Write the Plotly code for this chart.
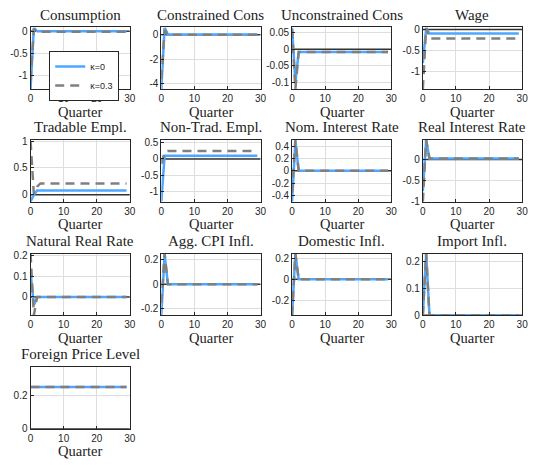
import plotly.graph_objects as go

W, H = 536, 465

quarters = list(range(30))

titles = ["Consumption", "Constrained Cons", "Unconstrained Cons", "Wage",
          "Tradable Empl.", "Non-Trad. Empl.", "Nom. Interest Rate", "Real Interest Rate",
          "Natural Real Rate", "Agg. CPI Infl.", "Domestic Infl.", "Import Infl.",
          "Foreign Price Level"]

# kappa = 0 (blue, solid)
cons_k0 = [-1.30, 0.08] + [0.0] * 28
ccons_k0 = [-4.42, 0.60] + [0.02] * 28
ucons_k0 = [0.066, -0.10] + [-0.008] * 28
wage_k0 = [-0.80, 0.03] + [-0.093] * 28
tradempl_k0 = [-0.13, 0.0] + [0.08] * 28
ntradempl_k0 = [-1.31, 0.10] + [0.10] * 28
nomrate_k0 = [-0.50, 0.48] + [0.0] * 28
realrate_k0 = [-0.75, 0.46] + [0.02] * 28
natrate_k0 = [0.12, -0.04] + [0.0] * 28
cpi_k0 = [-0.25, 0.24] + [0.0] * 28
dominfl_k0 = [-0.34, 0.245] + [0.0] * 28
impinfl_k0 = [0.0, 0.23] + [0.0] * 28
forprice_k0 = [0.25] * 30

# kappa = 0.3 (gray, dashed)
cons_k3 = [-1.10, 0.05] + [-0.01] * 28
ccons_k3 = [-3.60, 0.40] + [0.0] * 28
ucons_k3 = [0.06, -0.12] + [-0.008] * 28
wage_k3 = [-1.42, 0.05] + [-0.21] * 28
tradempl_k3 = [1.00, 0.02, 0.15] + [0.21] * 27
ntradempl_k3 = [-0.15, 0.20] + [0.24] * 28
nomrate_k3 = [-0.35, 0.50] + [0.0] * 28
realrate_k3 = [-1.00, 0.46] + [0.02] * 28
natrate_k3 = [0.21, -0.088] + [0.0] * 28
cpi_k3 = [-0.15, 0.25] + [0.0] * 28
dominfl_k3 = [-0.34, 0.245] + [0.0] * 28
impinfl_k3 = [0.0, 0.23] + [0.0] * 28
forprice_k3 = [0.25] * 30

series_k0 = [cons_k0, ccons_k0, ucons_k0, wage_k0, tradempl_k0, ntradempl_k0, nomrate_k0,
             realrate_k0, natrate_k0, cpi_k0, dominfl_k0, impinfl_k0, forprice_k0]
series_k3 = [cons_k3, ccons_k3, ucons_k3, wage_k3, tradempl_k3, ntradempl_k3, nomrate_k3,
             realrate_k3, natrate_k3, cpi_k3, dominfl_k3, impinfl_k3, forprice_k3]

y_ranges = [[-1.3, 0.085], [-4.42, 0.6], [-0.12, 0.066], [-1.42, 0.05],
            [-0.13, 1.02], [-1.31, 0.58], [-0.5, 0.5], [-1.0, 0.46],
            [-0.088, 0.21], [-0.25, 0.25], [-0.34, 0.245], [0.0, 0.23],
            [0.0, 0.37]]
y_ticks = [[-1, -0.5, 0], [-4, -2, 0], [-0.1, -0.05, 0, 0.05], [-1, -0.5, 0],
           [0, 0.5, 1], [-1, -0.5, 0, 0.5], [-0.4, -0.2, 0, 0.2, 0.4], [-1, -0.5, 0],
           [0, 0.1, 0.2], [-0.2, 0, 0.2], [-0.2, 0, 0.2], [0, 0.1, 0.2],
           [0, 0.2]]
y_ticktext = [["-1", "-0.5", "0"], ["-4", "-2", "0"], ["-0.1", "-0.05", "0", "0.05"], ["-1", "-0.5", "0"],
              ["0", "0.5", "1"], ["-1", "-0.5", "0", "0.5"], ["-0.4", "-0.2", "0", "0.2", "0.4"], ["-1", "-0.5", "0"],
              ["0", "0.1", "0.2"], ["-0.2", "0", "0.2"], ["-0.2", "0", "0.2"], ["0", "0.1", "0.2"],
              ["0", "0.2"]]
x_ticks = [0, 10, 20, 30]
x_label = "Quarter"
legend_names = ["\u03ba=0", "\u03ba=0.3"]

BLUE = "#4da6ff"
GRAY = "#808080"
DARK = "#262626"

col_left = [28, 161, 294, 427]
row_top = [24, 139, 255, 371]
PW, PH = 101, 63

fig = go.Figure()
annotations = []
for i, title in enumerate(titles):
    r, c = divmod(i, 4)
    L, T = col_left[c], row_top[r]
    xa = "xaxis" if i == 0 else f"xaxis{i+1}"
    ya = "yaxis" if i == 0 else f"yaxis{i+1}"
    xr = "x" if i == 0 else f"x{i+1}"
    yr = "y" if i == 0 else f"y{i+1}"
    # zero line
    fig.add_trace(go.Scatter(x=[0, 30], y=[0, 0], mode="lines",
                             line=dict(color="#333333", width=1.5),
                             showlegend=False, hoverinfo="skip", xaxis=xr, yaxis=yr))
    fig.add_trace(go.Scatter(x=quarters, y=series_k0[i], mode="lines",
                             line=dict(color=BLUE, width=2.5), name=legend_names[0],
                             showlegend=(i == 0), xaxis=xr, yaxis=yr))
    fig.add_trace(go.Scatter(x=quarters, y=series_k3[i], mode="lines",
                             line=dict(color=GRAY, width=2.5, dash="9px,6px"), name=legend_names[1],
                             showlegend=(i == 0), xaxis=xr, yaxis=yr))
    axis_common = dict(showline=True, mirror=True, linecolor=DARK, linewidth=1,
                       showgrid=True, gridcolor="#dedede", gridwidth=1, zeroline=False,
                       ticks="inside", ticklen=3, tickcolor=DARK,
                       tickfont=dict(family="Liberation Sans, Arial, sans-serif", size=10, color=DARK))
    fig.layout[xa] = dict(domain=[L / W, (L + PW) / W], range=[0, 30], tickvals=x_ticks,
                          ticktext=[str(v) for v in x_ticks], anchor=yr, **axis_common)
    fig.layout[ya] = dict(domain=[1 - (T + PH) / H, 1 - T / H], range=y_ranges[i],
                          tickvals=y_ticks[i], ticktext=y_ticktext[i], anchor=xr, **axis_common)
    cx = (L + PW / 2) / W
    annotations.append(dict(text=title, x=cx, y=1 - (T - 13) / H, xref="paper", yref="paper",
                            xanchor="center", yanchor="middle", showarrow=False,
                            font=dict(family="Liberation Serif", size=15, color="#222222")))
    annotations.append(dict(text=x_label, x=cx, y=1 - (T + PH + 23) / H, xref="paper", yref="paper",
                            xanchor="center", yanchor="middle", showarrow=False,
                            font=dict(family="Liberation Serif", size=14.5, color="#222222")))

fig.update_layout(
    width=W, height=H, margin=dict(l=0, r=0, t=0, b=0),
    paper_bgcolor="white", plot_bgcolor="white",
    annotations=annotations,
    legend=dict(x=47 / W, y=1 - 48 / H, xanchor="left", yanchor="top",
                bgcolor="white", bordercolor=DARK, borderwidth=1,
                font=dict(family="Liberation Sans, Arial, sans-serif", size=9, color=DARK),
                itemwidth=30, tracegroupgap=0),
)

fig.write_html("out.html")
